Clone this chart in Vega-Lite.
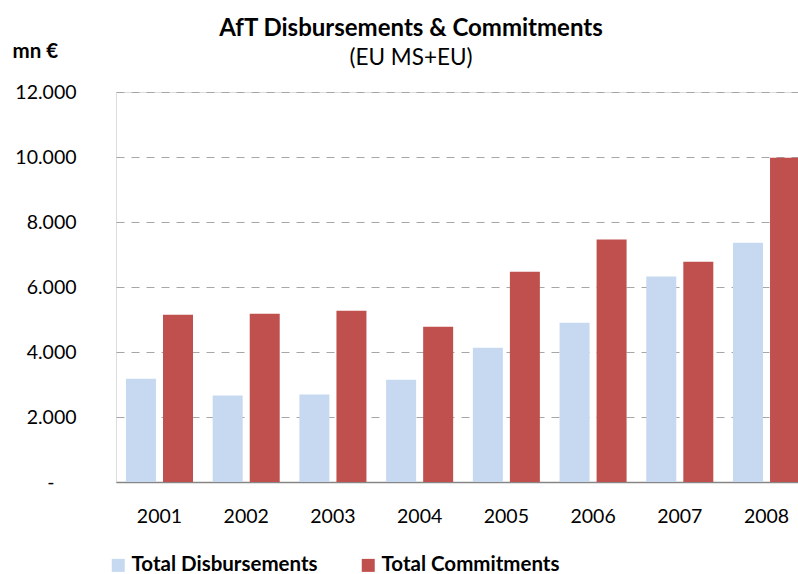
{
  "$schema": "https://vega.github.io/schema/vega-lite/v6.json",
  "autosize": "none",
  "padding": {"left": 116, "top": 92, "right": 0, "bottom": 92},
  "width": 694,
  "height": 390,
  "background": "white",
  "title": {
    "text": "AfT Disbursements & Commitments",
    "subtitle": "(EU MS+EU)",
    "anchor": "middle",
    "frame": "group",
    "dx": -52,
    "dy": 48,
    "offset": 20,
    "font": "Lato",
    "fontSize": 24,
    "fontWeight": "bold",
    "color": "#000000",
    "subtitleFont": "Lato",
    "subtitleFontSize": 22.5,
    "subtitleColor": "#000000",
    "subtitlePadding": 6
  },
  "data": {
    "values": [
      {"year": "2001", "series": "Total Disbursements", "value": 3180},
      {"year": "2001", "series": "Total Commitments", "value": 5150},
      {"year": "2002", "series": "Total Disbursements", "value": 2660},
      {"year": "2002", "series": "Total Commitments", "value": 5180},
      {"year": "2003", "series": "Total Disbursements", "value": 2690},
      {"year": "2003", "series": "Total Commitments", "value": 5270},
      {"year": "2004", "series": "Total Disbursements", "value": 3150},
      {"year": "2004", "series": "Total Commitments", "value": 4780},
      {"year": "2005", "series": "Total Disbursements", "value": 4130},
      {"year": "2005", "series": "Total Commitments", "value": 6470},
      {"year": "2006", "series": "Total Disbursements", "value": 4900},
      {"year": "2006", "series": "Total Commitments", "value": 7460},
      {"year": "2007", "series": "Total Disbursements", "value": 6320},
      {"year": "2007", "series": "Total Commitments", "value": 6780},
      {"year": "2008", "series": "Total Disbursements", "value": 7360},
      {"year": "2008", "series": "Total Commitments", "value": 9980}
    ]
  },
  "mark": {"type": "bar"},
  "encoding": {
    "x": {
      "field": "year",
      "type": "ordinal",
      "scale": {"paddingInner": 0.227, "paddingOuter": 0.115},
      "axis": {
        "title": null,
        "labelAngle": 0,
        "labelFont": "Lato",
        "labelFontSize": 19.5,
        "labelColor": "#000000",
        "labelPadding": 25,
        "ticks": false,
        "domain": true,
        "domainColor": "#868686",
        "domainWidth": 1.5,
        "grid": false
      }
    },
    "xOffset": {
      "field": "series",
      "type": "nominal",
      "sort": ["Total Disbursements", "Total Commitments"],
      "scale": {"paddingInner": 0.19}
    },
    "y": {
      "field": "value",
      "type": "quantitative",
      "scale": {"domain": [0, 12000], "nice": false},
      "axis": {
        "values": [0, 2000, 4000, 6000, 8000, 10000, 12000],
        "labelExpr": "datum.value === 0 ? '-' : replace(format(datum.value, ',d'), ',', '.')",
        "labelFont": "Lato",
        "labelFontSize": 19.5,
        "labelColor": "#000000",
        "labelPadding": {"condition": {"test": "datum.value === 0", "value": 62}, "value": 40},
        "ticks": false,
        "domain": false,
        "grid": true,
        "gridColor": "#A6A6A6",
        "gridWidth": 1,
        "gridDash": [8, 7],
        "title": "mn €",
        "titleAngle": 0,
        "titleX": -104,
        "titleY": -41,
        "titleAlign": "left",
        "titleBaseline": "middle",
        "titleFont": "Lato",
        "titleFontSize": 20.5,
        "titleFontWeight": "bold",
        "titleColor": "#000000"
      }
    },
    "color": {
      "field": "series",
      "type": "nominal",
      "sort": ["Total Disbursements", "Total Commitments"],
      "scale": {"domain": ["Total Disbursements", "Total Commitments"], "range": ["#C6D9F1", "#C0504D"]},
      "legend": {
        "title": null,
        "orient": "none",
        "direction": "horizontal",
        "legendX": -8,
        "legendY": 463,
        "symbolType": "square",
        "symbolSize": 169,
        "symbolStrokeWidth": 0,
        "labelFont": "Lato",
        "labelFontSize": 20.5,
        "labelFontWeight": "bold",
        "labelColor": "#000000",
        "labelOffset": 3,
        "columnPadding": 40,
        "labelLimit": 400
      }
    }
  }
}
